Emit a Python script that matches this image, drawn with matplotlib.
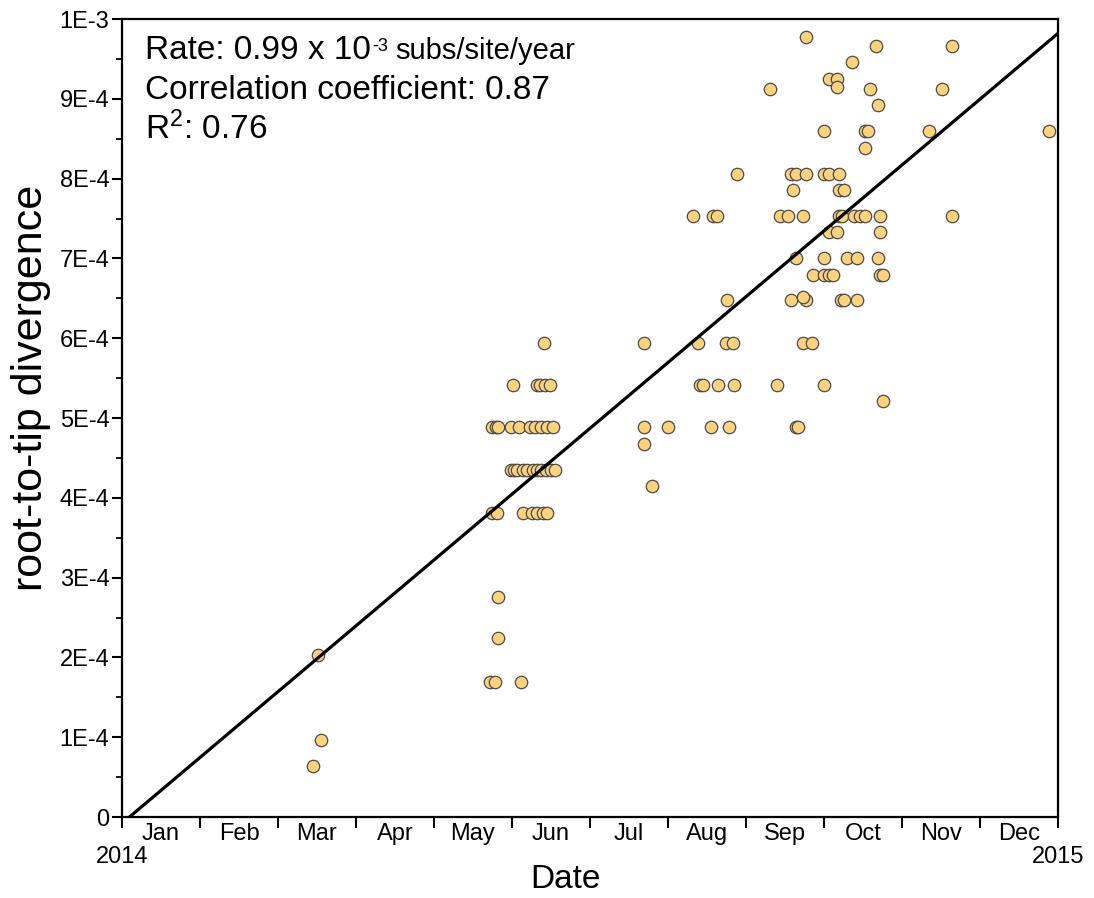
#!/usr/bin/env python3
import numpy as np
import matplotlib
matplotlib.use("Agg")
from matplotlib import pyplot as plt
from matplotlib.ticker import FixedLocator, NullFormatter, FixedFormatter

# sampling dates as decimal years, and root-to-tip divergence (subs/site)
dates = [
	2014.209, 2014.213, 2014.204,
	# May / June
	2014.451,
	2014.418, 2014.443, 2014.447, 2014.452, 2014.457,
	2014.395, 2014.400, 2014.402, 2014.416, 2014.424, 2014.436, 2014.441, 2014.448, 2014.454, 2014.460,
	2014.416, 2014.419, 2014.422, 2014.428, 2014.433, 2014.439, 2014.443, 2014.448, 2014.453, 2014.458, 2014.463,
	2014.395, 2014.401, 2014.428, 2014.438, 2014.443, 2014.450, 2014.454,
	2014.402, 2014.402,
	2014.393, 2014.399, 2014.426,
	# July / August
	2014.558, 2014.615, 2014.645, 2014.653,
	2014.618, 2014.621, 2014.637, 2014.654,
	2014.558, 2014.583, 2014.629, 2014.648,
	2014.558, 2014.566,
	2014.610, 2014.631, 2014.636,
	2014.657, 2014.646,
	# September / October
	2014.731, 2014.806, 2014.780, 2014.755, 2014.764, 2014.764, 2014.692, 2014.799, 2014.808,
	2014.750, 2014.794, 2014.797, 2014.794,
	2014.715, 2014.720, 2014.731, 2014.750, 2014.755, 2014.766,
	2014.717, 2014.766, 2014.771,
	2014.703, 2014.712, 2014.728, 2014.766, 2014.769, 2014.782, 2014.788, 2014.794, 2014.810,
	2014.755, 2014.764, 2014.810,
	2014.720, 2014.750, 2014.775, 2014.785, 2014.808,
	2014.738, 2014.750, 2014.755, 2014.760, 2014.810, 2014.813,
	2014.715, 2014.731, 2014.768, 2014.771, 2014.785, 2014.728,
	2014.728, 2014.737,
	2014.700, 2014.750,
	2014.813,
	2014.720, 2014.722,
	# November / December
	2014.887, 2014.876, 2014.862, 2014.990, 2014.887,
]
divergence = [
	2.03e-4, 0.96e-4, 0.64e-4,
	5.94e-4,
	5.41e-4, 5.41e-4, 5.41e-4, 5.41e-4, 5.41e-4,
	4.89e-4, 4.89e-4, 4.89e-4, 4.89e-4, 4.89e-4, 4.89e-4, 4.89e-4, 4.89e-4, 4.89e-4, 4.89e-4,
	4.35e-4, 4.35e-4, 4.35e-4, 4.35e-4, 4.35e-4, 4.35e-4, 4.35e-4, 4.35e-4, 4.35e-4, 4.35e-4, 4.35e-4,
	3.81e-4, 3.81e-4, 3.81e-4, 3.81e-4, 3.81e-4, 3.81e-4, 3.81e-4,
	2.76e-4, 2.24e-4,
	1.69e-4, 1.69e-4, 1.69e-4,
	5.94e-4, 5.94e-4, 5.94e-4, 5.94e-4,
	5.41e-4, 5.41e-4, 5.41e-4, 5.41e-4,
	4.89e-4, 4.89e-4, 4.89e-4, 4.89e-4,
	4.67e-4, 4.15e-4,
	7.53e-4, 7.53e-4, 7.53e-4,
	8.06e-4, 6.48e-4,
	9.77e-4, 9.66e-4, 9.46e-4, 9.25e-4, 9.25e-4, 9.15e-4, 9.12e-4, 9.12e-4, 8.92e-4,
	8.60e-4, 8.60e-4, 8.60e-4, 8.38e-4,
	8.06e-4, 8.06e-4, 8.06e-4, 8.06e-4, 8.06e-4, 8.06e-4,
	7.86e-4, 7.86e-4, 7.86e-4,
	7.53e-4, 7.53e-4, 7.53e-4, 7.53e-4, 7.53e-4, 7.53e-4, 7.53e-4, 7.53e-4, 7.53e-4,
	7.33e-4, 7.33e-4, 7.33e-4,
	7.00e-4, 7.00e-4, 7.00e-4, 7.00e-4, 7.00e-4,
	6.79e-4, 6.79e-4, 6.79e-4, 6.79e-4, 6.79e-4, 6.79e-4,
	6.48e-4, 6.48e-4, 6.48e-4, 6.48e-4, 6.48e-4, 6.52e-4,
	5.94e-4, 5.94e-4,
	5.41e-4, 5.41e-4,
	5.21e-4,
	4.89e-4, 4.89e-4,
	9.66e-4, 9.12e-4, 8.60e-4, 8.60e-4, 7.53e-4,
]

# regression line
rate = 0.99e-3
root_date = 2014.008

months = ["Jan", "Feb", "Mar", "Apr", "May", "Jun",
	"Jul", "Aug", "Sep", "Oct", "Nov", "Dec"]
ytick_labels = ["0", "1E-4", "2E-4", "3E-4", "4E-4", "5E-4",
	"6E-4", "7E-4", "8E-4", "9E-4", "1E-3"]

plt.rcParams['font.family'] = ['Liberation Sans', 'DejaVu Sans']
plt.rcParams['mathtext.default'] = 'regular'

fig = plt.figure(figsize=(10.94, 8.98), dpi=100)
ax = fig.add_axes([0.1115, 0.0902, 0.8556, 0.8886])

ax.scatter(dates, divergence, s=80, facecolor='#FDD27F', edgecolor='#4a4a4a',
	linewidth=0.9, zorder=3)

xl = np.array([root_date, 2015.0])
ax.plot(xl, rate * (xl - root_date), color='black', lw=2.3, zorder=4)

ax.set_xlim(2014.0, 2015.0)
ax.set_ylim(0, 1e-3)

# y axis
yt = np.linspace(0, 1e-3, 11)
ax.yaxis.set_major_locator(FixedLocator(yt))
ax.yaxis.set_major_formatter(FixedFormatter(ytick_labels))
ax.yaxis.set_minor_locator(FixedLocator(yt[:-1] + 0.5e-4))
ax.tick_params(axis='y', which='major', direction='out', length=7, width=1.5, labelsize=17, pad=2)
ax.tick_params(axis='y', which='minor', direction='out', length=4, width=1.3)

# x axis: month boundaries as ticks, labels centered in months
bounds = 2014 + np.arange(13) / 12.0
mids = 2014 + (np.arange(12) + 0.5) / 12.0
ax.xaxis.set_major_locator(FixedLocator(bounds))
ax.xaxis.set_major_formatter(NullFormatter())
ax.xaxis.set_minor_locator(FixedLocator(mids))
ax.xaxis.set_minor_formatter(FixedFormatter(months))
ax.tick_params(axis='x', which='major', direction='out', length=8, width=1.5)
ax.tick_params(axis='x', which='minor', length=0, labelsize=17, pad=4)

for yr in (2014, 2015):
	ax.annotate(str(yr), xy=(yr, 0), xycoords=('data', 'axes fraction'),
		xytext=(0, -29), textcoords='offset points', ha='center', va='center',
		fontsize=17)

for sp in ax.spines.values():
	sp.set_linewidth(1.6)

ax.set_xlabel("Date", fontsize=24, labelpad=14)
ax.xaxis.label.set_x(0.474)
ax.set_ylabel("root-to-tip divergence", fontsize=31, labelpad=6)
ax.yaxis.label.set_y(0.538)

# stats box, one text per line on fixed baselines
x0 = 0.0246
t1 = ax.text(x0, 0.950, "Rate: 0.99 x 10", transform=ax.transAxes,
	ha='left', va='baseline', fontsize=24)
t2 = ax.annotate("-3", xy=(1, 1), xycoords=t1, xytext=(1, -2),
	textcoords='offset points', ha='left', va='top', fontsize=13)
ax.annotate("subs/site/year", xy=(1, 0.950), xycoords=(t2, ax.transAxes),
	xytext=(5, 0), textcoords='offset points', ha='left', va='baseline', fontsize=21)
ax.text(x0, 0.900, "Correlation coefficient: 0.87", transform=ax.transAxes,
	ha='left', va='baseline', fontsize=24)
ax.text(x0, 0.850, "R$^{2}$: 0.76", transform=ax.transAxes,
	ha='left', va='baseline', fontsize=24)

fig.savefig("out.png", dpi=100)
